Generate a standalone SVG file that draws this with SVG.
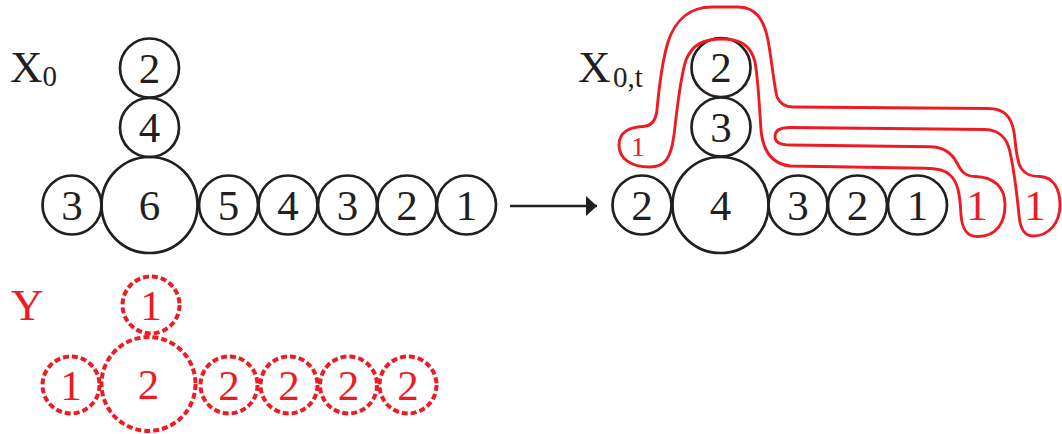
<svg xmlns="http://www.w3.org/2000/svg" width="1062" height="434" viewBox="0 0 1062 434">
<style>
.c{fill:none;stroke:#231F20;stroke-width:2.7}
.d{fill:none;stroke:#ED1C24;stroke-width:4;stroke-dasharray:6 3}
.t{font-family:"Liberation Serif","Times New Roman",serif;font-size:43px;fill:#231F20;text-anchor:middle}
.lb{font-family:"Liberation Serif","Times New Roman",serif;fill:#231F20}
.r{fill:#ED1C24}
.loop{fill:none;stroke:#ED1C24;stroke-width:2.9}
</style>
<defs>
<marker id="ah" markerUnits="userSpaceOnUse" markerWidth="12" markerHeight="20" refX="11" refY="10" orient="auto">
<path d="M0,0 L11,10 L0,20 Z" fill="#231F20"/>
</marker>
</defs>
<g id="labels">
<text class="lb" x="10" y="81.7" font-size="45">X<tspan x="42.5" y="86" font-size="29">0</tspan></text>
<text class="lb" x="578" y="81.7" font-size="45">X<tspan x="613" y="86.7" font-size="29">0,t</tspan></text>
<text class="lb r" x="11" y="320" font-size="45">Y</text>
</g>
<g id="X0">
<g id="x0-top2"><circle class="c" cx="149.5" cy="68" r="29.5"/><text class="t" x="149.5" y="82.5">2</text></g>
<g id="x0-top4"><circle class="c" cx="149.5" cy="127.5" r="29.5"/><text class="t" x="149.5" y="142">4</text></g>
<g id="x0-center6"><circle class="c" cx="149.5" cy="205" r="48"/><text class="t" x="149.5" y="219.5">6</text></g>
<g id="x0-left3"><circle class="c" cx="72" cy="205" r="29.5"/><text class="t" x="72" y="219.5">3</text></g>
<g id="x0-r5"><circle class="c" cx="228.5" cy="205" r="29.5"/><text class="t" x="228.5" y="219.5">5</text></g>
<g id="x0-r4"><circle class="c" cx="288" cy="205" r="29.5"/><text class="t" x="288" y="219.5">4</text></g>
<g id="x0-r3"><circle class="c" cx="347.5" cy="205" r="29.5"/><text class="t" x="347.5" y="219.5">3</text></g>
<g id="x0-r2"><circle class="c" cx="407" cy="205" r="29.5"/><text class="t" x="407" y="219.5">2</text></g>
<g id="x0-r1"><circle class="c" cx="466.5" cy="205" r="29.5"/><text class="t" x="466.5" y="219.5">1</text></g>
</g>
<g id="Y">
<g id="y-top1"><circle class="d" cx="151" cy="305" r="28.5"/><text class="t r" x="151" y="319.5">1</text></g>
<g id="y-center2"><circle class="d" cx="148.5" cy="384" r="47"/><text class="t r" x="148.5" y="398.5">2</text></g>
<g id="y-left1"><circle class="d" cx="71" cy="385" r="28.5"/><text class="t r" x="71" y="399.5">1</text></g>
<g id="y-r1"><circle class="d" cx="229" cy="385" r="28.5"/><text class="t r" x="229" y="399.5">2</text></g>
<g id="y-r2"><circle class="d" cx="289" cy="385" r="28.5"/><text class="t r" x="289" y="399.5">2</text></g>
<g id="y-r3"><circle class="d" cx="348.5" cy="385" r="28.5"/><text class="t r" x="348.5" y="399.5">2</text></g>
<g id="y-r4"><circle class="d" cx="408" cy="385" r="28.5"/><text class="t r" x="408" y="399.5">2</text></g>
</g>
<g id="X0t">
<g id="xt-top2"><circle class="c" cx="721" cy="67.5" r="29.5"/><text class="t" x="721" y="82">2</text></g>
<g id="xt-top3"><circle class="c" cx="721" cy="127" r="29.5"/><text class="t" x="721" y="141.5">3</text></g>
<g id="xt-center4"><circle class="c" cx="720.5" cy="205" r="48"/><text class="t" x="720.5" y="219.5">4</text></g>
<g id="xt-left2"><circle class="c" cx="642" cy="205" r="29.5"/><text class="t" x="642" y="219.5">2</text></g>
<g id="xt-r3"><circle class="c" cx="798" cy="205" r="29.5"/><text class="t" x="798" y="219.5">3</text></g>
<g id="xt-r2"><circle class="c" cx="857.5" cy="205" r="29.5"/><text class="t" x="857.5" y="219.5">2</text></g>
<g id="xt-r1"><circle class="c" cx="917.5" cy="205" r="29.5"/><text class="t" x="917.5" y="219.5">1</text></g>
</g>
<g id="loop">
<path class="loop" d="M793,107 L988,108.5 C1004,108.5 1011,116 1014,132 C1016,145 1016,160 1021,168 C1025,174 1030,176.5 1040,176.5 C1054,177 1060,190 1060,205 C1060,224 1048,236 1033,236 C1024,236 1020,228 1019,215 C1017,195 1014,170 1010,152 C1007,138 1000,130 985,129.5 L790,127.5 C780,127.5 775,131 775,136.5 C775,142 780,145 790,145 L930,146.7 C945,147 953,155 957,163 C961,171 965,176.5 975,176.5 C995,177 1005,188 1005,205 C1005,222 997,236.5 978,236.5 C966,237 962,228 961,215 C960,195 958,182 950,175 C945,170 938,168.3 925,168.3 L790,166 C772,164 763,152 761,130 C759,100 758,78 755,62 C751,46 741,39 722,39 C703,39 692,45 686,60 C680,78 677,110 674,135 C671,158 665,167 650,167 C630,167 619,158 619,145 C619,132 630,127 643,126.5 C652,126 656,120 657,110 C659,88 662,62 668,42 C675,20 690,7 712,7 L738,7 C756,7 764,20 768,40 C772,62 774,85 777,97 C780,104 785,107 793,107 Z"/>
<text class="r" x="638" y="156" font-family="Liberation Serif, serif" font-size="28" text-anchor="middle">1</text>
<text class="t r" x="977" y="219.5">1</text>
<text class="t r" x="1035" y="219.5">1</text>
</g>
<g id="connectors">
<line x1="510" y1="206" x2="597" y2="206" stroke="#231F20" stroke-width="2.6" marker-end="url(#ah)"/>
</g>
</svg>
